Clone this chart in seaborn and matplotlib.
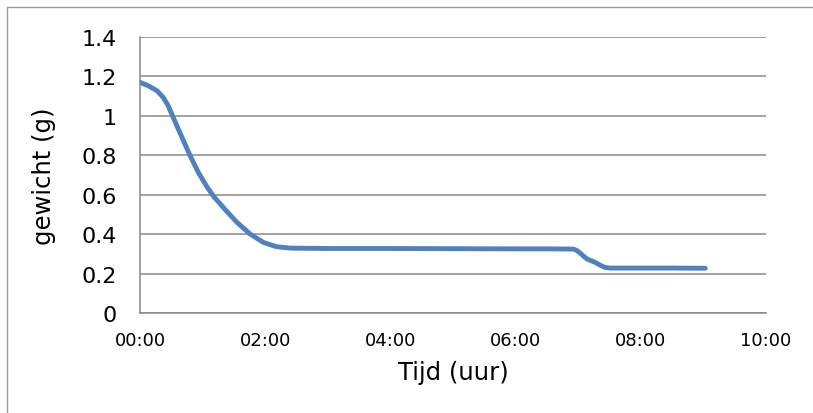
import matplotlib
matplotlib.use("Agg")
import matplotlib.pyplot as plt
import matplotlib.ticker as mticker
from matplotlib.patches import Rectangle
import numpy as np
import pandas as pd
import seaborn as sns

# data (time in hours, weight in grams)
tijd_uur = [0.0, 0.13, 0.27, 0.37, 0.45, 0.53, 0.67, 0.80, 0.93, 1.07, 1.18, 1.36, 1.55,
            1.76, 1.97, 2.18, 2.40, 2.66, 3.0, 4.0, 5.0, 6.0, 6.6, 6.92, 6.98, 7.03,
            7.09, 7.14, 7.27, 7.36, 7.42, 7.51, 8.0, 8.5, 9.03]
gewicht = [1.169, 1.152, 1.127, 1.093, 1.051, 0.992, 0.891, 0.798, 0.714, 0.640, 0.590, 0.525, 0.460,
           0.401, 0.359, 0.337, 0.330, 0.329, 0.328, 0.328, 0.327, 0.326, 0.326, 0.325, 0.318, 0.305,
           0.288, 0.275, 0.258, 0.242, 0.233, 0.229, 0.229, 0.229, 0.228]
x_ticks = [0, 2, 4, 6, 8, 10]
y_ticks = [0, 0.2, 0.4, 0.6, 0.8, 1.0, 1.2, 1.4]

df = pd.DataFrame({"tijd": tijd_uur, "gewicht": gewicht})

sns.set_theme(style="white")
plt.rcParams["font.family"] = ["DejaVu Sans"]

fig = plt.figure(figsize=(8.13, 4.14), dpi=100)
ax = fig.add_axes([140 / 813, 1 - 314.3 / 414, 626 / 813, 276.6 / 414])

grid_col = "#878787"
sns.lineplot(data=df, x="tijd", y="gewicht", ax=ax, color="#4F81BD",
             linewidth=3.5, solid_capstyle="round", solid_joinstyle="round", zorder=3)

ax.set_xlim(0, 10)
ax.set_ylim(0, 1.4)
ax.set_xticks(x_ticks)
ax.set_yticks(y_ticks)
ax.xaxis.set_major_formatter(mticker.FuncFormatter(lambda v, p: f"{int(v):02d}:00"))
ax.yaxis.set_major_formatter(mticker.FuncFormatter(lambda v, p: f"{v:g}"))
ax.yaxis.grid(True, color=grid_col, linewidth=1.1)
ax.xaxis.grid(False)
ax.set_axisbelow(True)

for s in ["top", "right"]:
    ax.spines[s].set_visible(False)
for s in ["left", "bottom"]:
    ax.spines[s].set_color(grid_col)
    ax.spines[s].set_linewidth(1.1)

ax.tick_params(axis="x", length=0, pad=13, labelsize=13, colors="black")
ax.tick_params(axis="y", length=0, pad=17, labelsize=16, colors="black")
ax.set_xlabel("Tijd (uur)", fontsize=17.5, labelpad=8, color="black")
ax.set_ylabel("gewicht (g)", fontsize=17.5, labelpad=18, color="black")

fig.patches.append(Rectangle((7 / 813, -0.1), 1.2, 0.1 + 1 - 7.5 / 414,
                             transform=fig.transFigure, fill=False,
                             edgecolor="#9a9a9a", linewidth=1.0))

fig.savefig("out.png", dpi=100, facecolor="white")
